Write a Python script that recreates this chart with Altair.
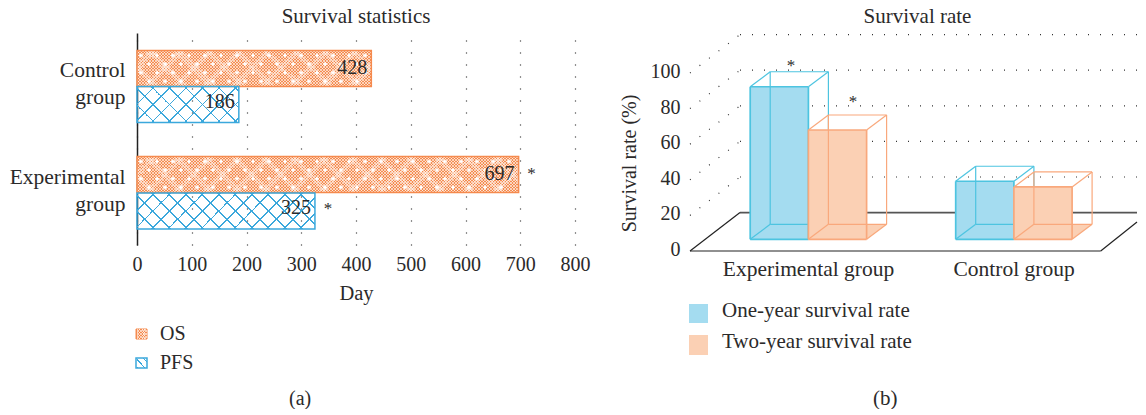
import altair as alt
import pandas as pd

# ---- values
groups = ["Control group", "Experimental group"]
os_days = [428, 697]
pfs_days = [186, 325]
one_year = [85.7, 32.6]
two_year = [61.4, 29.4]
x_ticks = [0, 100, 200, 300, 400, 500, 600, 700, 800]
y_ticks = [0, 20, 40, 60, 80, 100]

FONT = "Liberation Serif"
INK = "#2b2a2a"
ORANGE = "#f58a4e"
BLUE = "#3ba8dc"
LW, LH = 438, 212          # left plot
PXD = LW / 800
RW, RH = 447, 218          # right plot
UNIT = 1.78                # px per % on the right


def stripes(W, H, period, width, color, rising):
    """Linear gradient that paints 45 degree stripes on a W x H box."""
    total = W + H
    k = total / (W * W + H * H)
    stops = []
    c = 0.0
    clear = "rgba(255,255,255,0)"
    while c < total:
        a = c / total
        b = min(c + width, total) / total
        e = min(c + period, total) / total
        stops += [
            {"offset": a, "color": color}, {"offset": b, "color": color},
            {"offset": b, "color": clear}, {"offset": e, "color": clear},
        ]
        c += period
    g = {"gradient": "linear", "stops": stops}
    if rising:
        g.update(x1=0, y1=0, x2=k * W, y2=k * H)
    else:
        g.update(x1=0, y1=1, x2=k * W, y2=1 - k * H)
    return g


# ---------------- left panel
lx = alt.X("x:Q", scale=alt.Scale(domain=[0, 800], nice=False),
           axis=alt.Axis(values=x_ticks, grid=True, gridDash=[1, 11], gridColor="#222",
                         gridWidth=1.2, domain=False, ticks=False, labelFont=FONT,
                         labelFontSize=20, labelColor=INK, labelPadding=9, labelFlush=False,
                         title="Day", titleFont=FONT, titleFontSize=20.5,
                         titleFontWeight="normal", titleColor=INK, titlePadding=9))
ly = alt.Y("y:Q", scale=alt.Scale(domain=[0, LH], reverse=True, nice=False),
           axis=alt.Axis(values=[52, 158.5], grid=False, ticks=False, domain=True,
                         domainColor="#222", domainWidth=1.5, labelFont=FONT,
                         labelFontSize=21.5, labelColor=INK, labelPadding=12, labelOffset=-14.5,
                         labelLineHeight=27, title=None, minExtent=129, maxExtent=129,
                         labelFlush=False,
                         labelExpr="datum.value < 100 ? ['Control','group'] : ['Experimental','group']"))
BAR_H = 36
rows = {"Control group": (17.5, 53.5), "Experimental group": (123.5, 160)}


def rect_layer(x0, x1, top, h, **mark):
    d = pd.DataFrame({"x": [x0], "x2": [x1], "y": [top], "y2": [top + h]})
    return alt.Chart(d).mark_rect(**mark).encode(x=lx, x2="x2:Q", y=ly, y2="y2:Q")


left_layers = []
dots = []
for i, g in enumerate(groups):
    top_os, top_pfs = rows[g]
    W_os, W_pfs = os_days[i] * PXD, pfs_days[i] * PXD
    # OS: fine orange check with white specks
    left_layers.append(rect_layer(0, os_days[i], top_os, BAR_H, fill="#f58c50"))
    for up in (True, False):
        left_layers.append(rect_layer(0, os_days[i], top_os, BAR_H,
                                      fill=stripes(W_os, BAR_H, 2.9, 1.2, "rgba(255,255,255,0.6)", up)))
    for r in range(4):
        py = top_os + 5 + r * 8.6
        px = 4 + (r % 2) * 8
        while px < W_os - 2:
            dots.append({"x": px / PXD, "y": py})
            px += 16
    left_layers.append(rect_layer(0, os_days[i], top_os, BAR_H, fill="transparent",
                                  stroke=ORANGE, strokeWidth=1.5))
    # PFS: open blue lattice
    for up in (True, False):
        left_layers.append(rect_layer(0, pfs_days[i], top_pfs, BAR_H,
                                      fill=stripes(W_pfs, BAR_H, 16.5, 1.6, BLUE, up)))
    left_layers.append(rect_layer(0, pfs_days[i], top_pfs, BAR_H, fill="transparent",
                                  stroke=BLUE, strokeWidth=1.5))

left_layers.append(alt.Chart(pd.DataFrame(dots)).mark_point(
    shape="cross", filled=True, size=14, color="white", opacity=1).encode(x=lx, y=ly))

labels = pd.DataFrame({
    "x": os_days + pfs_days,
    "y": [rows[g][0] + 17 for g in groups] + [rows[g][1] + 15 for g in groups],
    "t": [str(v) for v in os_days + pfs_days],
})
left_layers.append(alt.Chart(labels).mark_text(
    align="right", baseline="middle", dx=-4, font=FONT, fontSize=20, color=INK
).encode(x=lx, y=ly, text="t:N"))

stars_l = pd.DataFrame({"x": [os_days[1], pfs_days[1]], "y": [140.5, 176], "t": ["*", "*"]})
left_layers.append(alt.Chart(stars_l).mark_text(
    align="center", baseline="middle", dx=13, font=FONT, fontSize=17, color=INK
).encode(x=lx, y=ly, text="t:N"))

# manual legend + caption
lg_x = -1 / PXD
left_layers.append(rect_layer(lg_x, 10 / PXD, 296, 10, fill="#f58c50", stroke=ORANGE, strokeWidth=1))
for up in (True, False):
    left_layers.append(rect_layer(0, 10 / PXD, 296, 10, fill=stripes(11, 10, 2.9, 1.2, "rgba(255,255,255,0.6)", up)))
left_layers.append(rect_layer(lg_x, 10 / PXD, 325, 10, fill="white", stroke=BLUE, strokeWidth=1.5))
left_layers.append(rect_layer(0, 10 / PXD, 325, 10, fill=stripes(11, 10, 8, 1.5, BLUE, False)))
lg = pd.DataFrame({"x": [23 / PXD, 23 / PXD, 152 / PXD], "y": [301, 330, 366],
                   "t": ["OS", "PFS", "(a)"]})
left_layers.append(alt.Chart(lg).mark_text(align="left", baseline="middle", font=FONT,
                                           fontSize=20, color=INK).encode(x=lx, y=ly, text="t:N"))

left = alt.layer(*left_layers).properties(
    width=LW, height=LH,
    title=alt.Title("Survival statistics", font=FONT, fontSize=21, fontWeight="normal",
                    color=INK, anchor="middle", offset=6),
)

# ---------------- right panel
rx = alt.X("x:Q", scale=alt.Scale(domain=[0, RW], nice=False),
           axis=alt.Axis(values=[118, 323.6], domain=False, ticks=False, grid=False,
                         labelFont=FONT, labelFontSize=21.5, labelColor=INK, labelPadding=7,
                         labelFlush=False,
                         labelExpr="datum.value < 200 ? 'Experimental group' : 'Control group'",
                         title=None))
ry = alt.Y("y:Q", scale=alt.Scale(domain=[0, RH / UNIT], nice=False),
           axis=alt.Axis(values=y_ticks, domain=False, ticks=False, grid=False, labelFont=FONT,
                         labelFontSize=20, labelColor=INK, labelPadding=10, labelOffset=-1.5,
                         labelFlush=False,
                         title="Survival rate (%)", titleFont=FONT, titleFontSize=20,
                         titleFontWeight="normal", titleColor=INK, titleX=-51, titleY=130,
                         minExtent=72, maxExtent=72))
FLOOR_DX, FLOOR_DY = 50, 38.4 / UNIT
BOX_DX, BOX_DY = 20, 15 / UNIT
BASE = 11.7 / UNIT
BW = 58.2
STARTS = [60.2, 265.7]


def edges(rows_, color, width=1.5, dash=None):
    d = pd.DataFrame(rows_, columns=["x", "y", "x2", "y2"])
    kw = dict(color=color, strokeWidth=width)
    if dash:
        kw["strokeDash"] = dash
    return alt.Chart(d).mark_rule(**kw).encode(x=rx, y=ry, x2="x2:Q", y2="y2:Q")


right_layers = []
grid_rows = []
for v in y_ticks[1:]:
    grid_rows.append([FLOOR_DX, v + FLOOR_DY, RW, v + FLOOR_DY])
    grid_rows.append([0, v, FLOOR_DX, v + FLOOR_DY])
right_layers.append(edges(grid_rows, "#333", 1.2, [1, 11]))
right_layers.append(edges([[FLOOR_DX, FLOOR_DY, RW, FLOOR_DY]], "#555", 1.6))
right_layers.append(edges([[0, 0, 410.7, 0], [0, 0, FLOOR_DX, FLOOR_DY],
                           [410.7, 0, RW, 29 / UNIT]], "#222", 1.2))


def box(x0, value, fill, stroke):
    top = BASE + value
    layers = []
    area = pd.DataFrame({
        "x": [x0, x0 + BOX_DX, x0 + BW, x0 + BW + BOX_DX],
        "y": [BASE, BASE, BASE, BASE + BOX_DY],
        "y2": [BASE, BASE + BOX_DY, BASE + BOX_DY, BASE + BOX_DY],
    })
    layers.append(alt.Chart(area).mark_area(color=fill, opacity=1).encode(x=rx, y=ry, y2="y2:Q"))
    front = pd.DataFrame({"x": [x0], "x2": [x0 + BW], "y": [BASE], "y2": [top]})
    layers.append(alt.Chart(front).mark_rect(color=fill).encode(x=rx, x2="x2:Q", y=ry, y2="y2:Q"))
    xr, xb, xbr = x0 + BW, x0 + BOX_DX, x0 + BW + BOX_DX
    bb, bt = BASE + BOX_DY, top + BOX_DY
    layers.append(edges([
        [xb, bb, xb, bt], [xb, bt, xbr, bt], [xbr, bt, xbr, bb], [xb, bb, xbr, bb],
        [x0, top, xb, bt], [xr, top, xbr, bt], [x0, BASE, xb, bb], [xr, BASE, xbr, bb],
    ], stroke, 1.2))
    layers.append(edges([
        [x0, BASE, x0, top], [x0, top, xr, top], [xr, top, xr, BASE], [x0, BASE, xr, BASE],
    ], stroke, 1.7))
    return layers


BLUE_F, BLUE_S = "#a4dcf0", "#4dc4e0"
OR_F, OR_S = "#fbd0b4", "#f9a87c"
for x0, v1 in zip(STARTS, one_year):
    right_layers += box(x0, v1, BLUE_F, BLUE_S)
for x0, v2 in zip(STARTS, two_year):
    right_layers += box(x0 + BW, v2, OR_F, OR_S)

stars_r = pd.DataFrame({"x": [101, 163], "y": [(251 - 66) / UNIT, (251 - 102) / UNIT], "t": ["*", "*"]})
right_layers.append(alt.Chart(stars_r).mark_text(align="center", baseline="middle", font=FONT,
                                                 fontSize=17, color=INK).encode(x=rx, y=ry, text="t:N"))
# legend + caption
swatches = pd.DataFrame({"x": [-1, -1], "x2": [18, 18],
                         "y": [-53 / UNIT, -84 / UNIT], "y2": [-72 / UNIT, -104 / UNIT],
                         "c": [BLUE_F, OR_F]})
right_layers.append(alt.Chart(swatches).mark_rect().encode(
    x=rx, x2="x2:Q", y=ry, y2="y2:Q", color=alt.Color("c:N", scale=None)))
rt = pd.DataFrame({"x": [32, 32, 183], "y": [-60 / UNIT, -91 / UNIT, -148 / UNIT],
                   "t": ["One-year survival rate", "Two-year survival rate", "(b)"]})
right_layers.append(alt.Chart(rt).mark_text(align="left", baseline="middle", font=FONT, fontSize=21,
                                            color=INK).encode(x=rx, y=ry, text="t:N"))

right = alt.layer(*right_layers).properties(
    width=RW, height=RH,
    title=alt.Title("Survival rate", font=FONT, fontSize=21, fontWeight="normal",
                    color=INK, anchor="middle", offset=6, dx=4),
)

chart = alt.hconcat(left, right, spacing=28).properties(
    padding={"left": 0, "right": 0, "top": -2, "bottom": 0}
).configure_view(stroke=None)
chart.save("out.html", embed_options={"renderer": "svg", "actions": False})
